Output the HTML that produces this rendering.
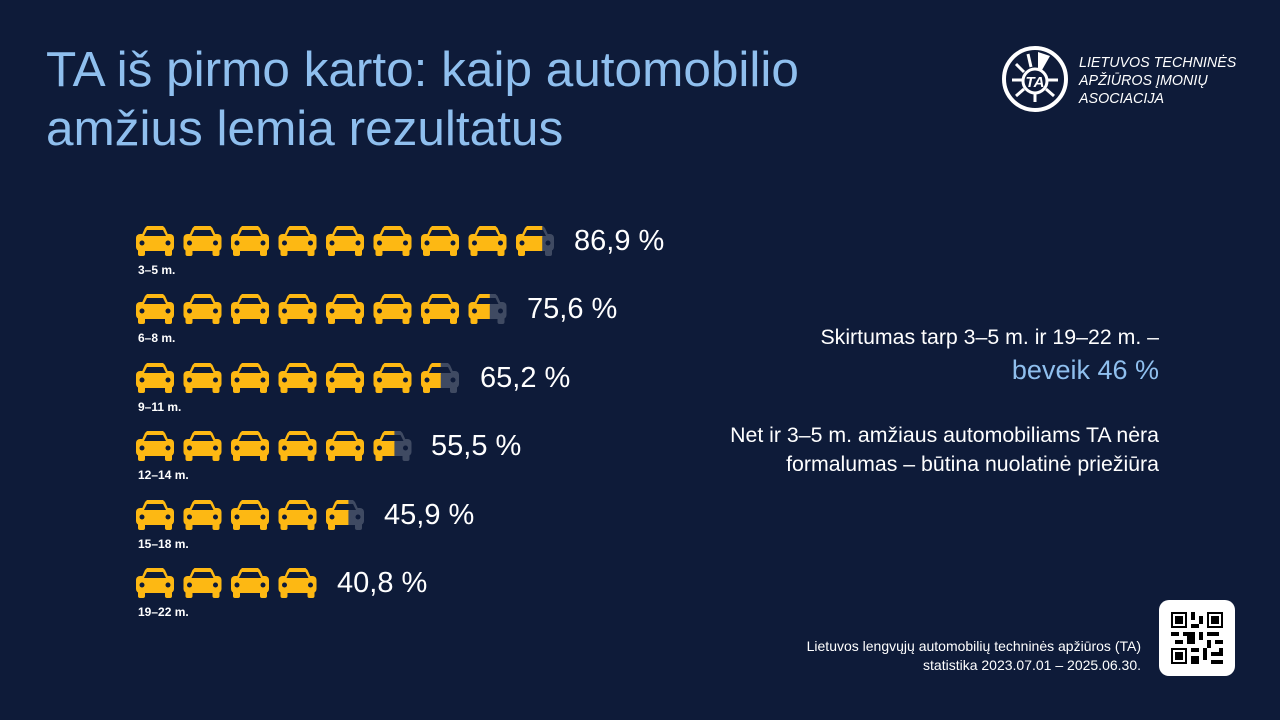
<!DOCTYPE html>
<html><head><meta charset="utf-8"><style>
body{margin:0;width:1280px;height:720px;background:#0e1b39;overflow:hidden;font-family:"Liberation Sans",sans-serif;position:relative}
.t{position:absolute;left:46px;top:40px;font-size:49.5px;line-height:59px;color:#8fbfee}
.p{position:absolute;color:#fff;font-size:29px}
.l{position:absolute;color:#fff;font-size:12px;font-weight:bold;left:138px}
.r{position:absolute;right:121px;text-align:right;color:#fff;font-size:21.3px;line-height:29px}
</style></head><body>
<div class="t">TA iš pirmo karto: kaip automobilio<br>amžius lemia rezultatus</div>
<svg style="position:absolute;left:1000px;top:44px" width="70" height="70" viewBox="0 0 70 70">
<circle cx="35" cy="35" r="31" fill="none" stroke="#fff" stroke-width="4"/>
<circle cx="35" cy="37" r="12" fill="none" stroke="#fff" stroke-width="3"/>
<g stroke="#fff" stroke-width="3"><line x1="16" y1="20" x2="24" y2="28"/><line x1="12" y1="36" x2="22" y2="36"/><line x1="16" y1="52" x2="24" y2="45"/><line x1="35" y1="58" x2="35" y2="50"/><line x1="54" y1="52" x2="46" y2="45"/><line x1="58" y1="36" x2="48" y2="36"/><line x1="28" y1="10" x2="31" y2="23"/></g>
<polygon points="38,8 50,12 42,26 38,24" fill="#fff"/>
<text x="35" y="43" font-size="15" font-weight="bold" font-style="italic" fill="#fff" text-anchor="middle" font-family="Liberation Sans">TA</text>
</svg>
<div style="position:absolute;left:1079px;top:54px;color:#fff;font-size:14.3px;line-height:18px;font-style:italic">LIETUVOS TECHNINĖS<br>APŽIŪROS ĮMONIŲ<br>ASOCIACIJA</div>
<svg style="position:absolute;left:0;top:0" width="700" height="640">
<defs>
<g id="car"><rect x="0" y="9" width="38" height="17" rx="4"/><polygon points="5,12 9,3 11,1 27,1 29,3 33,12"/><rect x="2" y="22" width="7" height="9" rx="2"/><rect x="29" y="22" width="7" height="9" rx="2"/></g>
<g id="cd"><polygon points="8,11 11,5 27,5 30,11" fill="#0e1b39"/><circle cx="6" cy="18" r="2.5" fill="#0e1b39"/><circle cx="32" cy="18" r="2.5" fill="#0e1b39"/></g>
</defs>
<g id="rows"></g>
</svg>
<script>
var rows=[[8.69,225],[7.56,293],[6.52,362],[5.55,430],[4.59,499],[4.08,567]],s='';
rows.forEach(function(r,i){var n=r[0],y=r[1],full=Math.floor(n),fr=n-full;
for(var k=0;k<full;k++){var x=136+k*47.5;s+='<g transform="translate('+x+','+y+')"><use href="#car" fill="#fdb813"/><use href="#cd"/></g>';}
if(fr>0.15){var x=136+full*47.5;s+='<clipPath id="c'+i+'"><rect x="0" y="0" width="'+(38*fr)+'" height="40"/></clipPath><g transform="translate('+x+','+y+')"><use href="#car" fill="#3f4a62"/><g clip-path="url(#c'+i+')"><use href="#car" fill="#fdb813"/></g><use href="#cd"/></g>';}
});
document.getElementById('rows').innerHTML=s;
</script>
<div class="p" style="left:574px;top:225px">86,9 %</div>
<div class="p" style="left:527px;top:293px">75,6 %</div>
<div class="p" style="left:480px;top:362px">65,2 %</div>
<div class="p" style="left:431px;top:430px">55,5 %</div>
<div class="p" style="left:384px;top:499px">45,9 %</div>
<div class="p" style="left:337px;top:567px">40,8 %</div>
<div class="l" style="top:263px">3–5 m.</div>
<div class="l" style="top:331px">6–8 m.</div>
<div class="l" style="top:400px">9–11 m.</div>
<div class="l" style="top:468px">12–14 m.</div>
<div class="l" style="top:537px">15–18 m.</div>
<div class="l" style="top:605px">19–22 m.</div>
<div class="r" style="top:323px">Skirtumas tarp 3–5 m. ir 19–22 m. –</div>
<div class="r" style="top:353px;color:#8fbfee;font-size:27px;line-height:34px">beveik 46 %</div>
<div class="r" style="top:421px">Net ir 3–5 m. amžiaus automobiliams TA nėra<br>formalumas – būtina nuolatinė priežiūra</div>
<div class="r" style="top:637px;right:139px;font-size:14px;line-height:19px">Lietuvos lengvųjų automobilių techninės apžiūros (TA)<br>statistika 2023.07.01 – 2025.06.30.</div>
<div style="position:absolute;left:1159px;top:600px;width:76px;height:76px;background:#fff;border-radius:10px">
<svg style="position:absolute;left:12px;top:12px" width="52" height="52" viewBox="0 0 13 13" shape-rendering="crispEdges">
<path fill="#000" d="M0 0h4v4h-4zM9 0h4v4h-4zM0 9h4v4h-4z"/>
<path fill="#fff" d="M.5 .5h3v3h-3zM9.5 .5h3v3h-3zM.5 9.5h3v3h-3z"/>
<path fill="#000" d="M1 1h2v2h-2zM10 1h2v2h-2zM1 10h2v2h-2zM5 0h1v2h-1zM7 1h1v2h-1zM5 3h2v1h-2zM0 5h2v1h-2zM3 5h3v1h-3zM7 5h1v2h-1zM9 5h3v1h-3zM1 7h2v1h-2zM4 6h2v2h-2zM9 7h1v2h-1zM11 7h2v1h-2zM5 9h2v1h-2zM8 9h1v3h-1zM10 10h2v1h-2zM5 11h2v2h-2zM10 12h3v1h-3zM12 9h1v2h-1z"/>
</svg></div>
</body></html>
